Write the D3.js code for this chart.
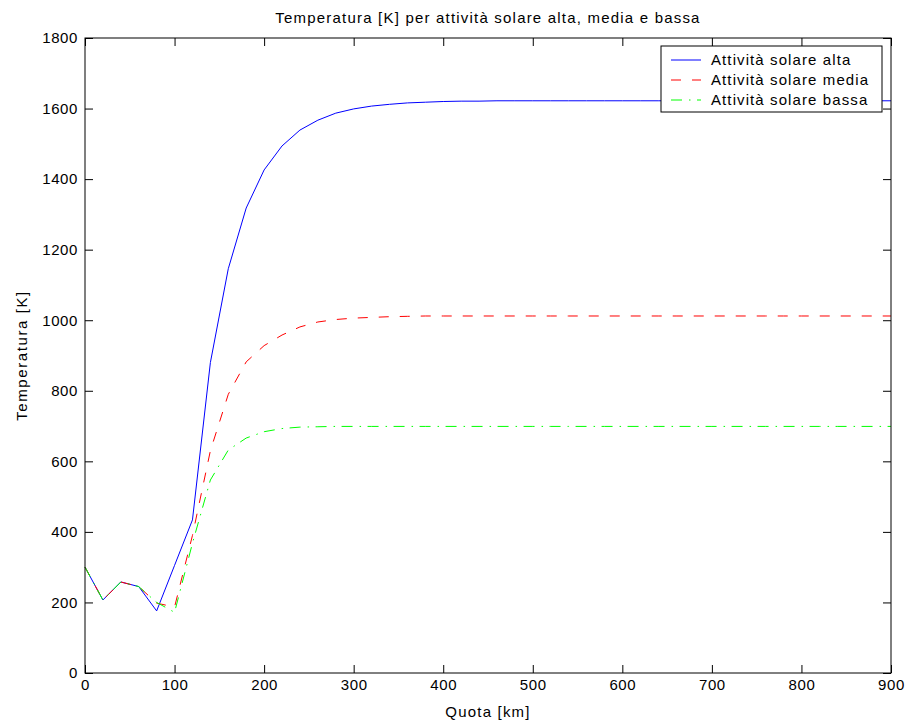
<!DOCTYPE html>
<html>
<head>
<meta charset="utf-8">
<script src="https://cdn.jsdelivr.net/npm/d3@7"></script>
<style>
  body { margin: 0; background: #fff; }
  text { font-family: "Liberation Sans", Arial, Helvetica, sans-serif; }
</style>
</head>
<body>
<svg id="chart"></svg>
<script>
// altitude in km
const quota = [0, 20, 40, 60, 80, 100, 120, 140, 160, 180, 200, 220, 240, 260, 280, 300,
  320, 340, 360, 380, 400, 420, 440, 460, 480, 500, 520, 540, 560, 580, 600,
  620, 640, 660, 680, 700, 720, 740, 760, 780, 800, 820, 840, 860, 880, 900];

const tempAlta = [300, 207, 258, 245, 176, 305, 434, 880, 1146, 1318, 1426, 1494, 1539, 1567, 1587, 1599,
  1607, 1612, 1616, 1618, 1620, 1621, 1621, 1622, 1622, 1622, 1622, 1622, 1622, 1622, 1622,
  1622, 1622, 1622, 1622, 1622, 1622, 1622, 1622, 1622, 1622, 1622, 1622, 1622, 1622, 1622];

const tempMedia = [300, 207, 258, 245, 198, 187, 390, 630, 790, 882, 928, 958, 981, 995, 1002, 1006,
  1008, 1010, 1011, 1012, 1012, 1012, 1012, 1012, 1012, 1012, 1012, 1012, 1012, 1012, 1012,
  1012, 1012, 1012, 1012, 1012, 1012, 1012, 1012, 1012, 1012, 1012, 1012, 1012, 1012, 1012];

const tempBassa = [300, 207, 258, 245, 200, 172, 368, 547, 632, 666, 684, 693, 697, 698, 699, 699,
  699, 699, 699, 699, 699, 699, 699, 699, 699, 699, 699, 699, 699, 699, 699,
  699, 699, 699, 699, 699, 699, 699, 699, 699, 699, 699, 699, 699, 699, 699];

const seriesNames = ['Attività solare alta', 'Attività solare media', 'Attività solare bassa'];
const xTicks = [0, 100, 200, 300, 400, 500, 600, 700, 800, 900];
const yTicks = [0, 200, 400, 600, 800, 1000, 1200, 1400, 1600, 1800];

const W = 909, H = 723,
  m = {l: 85, r: 891, t: 38, b: 673};

const svg = d3.select('#chart').attr('width', W).attr('height', H);

const x = d3.scaleLinear().domain([0, 900]).range([m.l, m.r]),
  y = d3.scaleLinear().domain([0, 1800]).range([m.b, m.t]);

const styles = [
  {color: '#0000ff', dash: null},
  {color: '#ff0000', dash: '10,11'},
  {color: '#00ff00', dash: '11,7,1.5,6.5'}
];
const allSeries = [tempAlta, tempMedia, tempBassa];

const line = d3.line().x((d) => x(d[0])).y((d) => y(d[1]));

allSeries.forEach((vals, i) => {
  svg.append('path')
    .datum(quota.map((q, j) => [q, vals[j]]))
    .attr('d', line)
    .attr('fill', 'none')
    .attr('stroke', styles[i].color)
    .attr('stroke-width', 1)
    .attr('stroke-dasharray', styles[i].dash);
});

// axes, matlab style ticks pointing inward
const styleAxis = (g) => {
  g.select('.domain').remove();
  g.selectAll('line').attr('stroke', '#000');
  g.selectAll('text').attr('font-size', 15).attr('fill', '#000')
    .attr('letter-spacing', 0.6)
    .style('font-family', '"Liberation Sans", Arial, sans-serif');
};

svg.append('g')
  .attr('transform', 'translate(' + m.l + ',0)')
  .call(d3.axisLeft(y).tickValues(yTicks).tickSize(-8).tickPadding(7).tickFormat(d3.format('d')))
  .call(styleAxis);
svg.append('g')
  .attr('transform', 'translate(' + m.r + ',0)')
  .call(d3.axisRight(y).tickValues(yTicks).tickSize(-8).tickFormat(''))
  .call(styleAxis);
svg.append('g')
  .attr('transform', 'translate(0,' + m.b + ')')
  .call(d3.axisBottom(x).tickValues(xTicks).tickSize(-8).tickPadding(6).tickFormat(d3.format('d')))
  .call(styleAxis);
svg.append('g')
  .attr('transform', 'translate(0,' + m.t + ')')
  .call(d3.axisTop(x).tickValues(xTicks).tickSize(-8).tickFormat(''))
  .call(styleAxis);

svg.append('rect')
  .attr('x', m.l).attr('y', m.t)
  .attr('width', m.r - m.l).attr('height', m.b - m.t)
  .attr('fill', 'none').attr('stroke', '#000').attr('stroke-width', 1);

// titles
svg.append('text')
  .text('Temperatura [K] per attività solare alta, media e bassa')
  .attr('x', (m.l + m.r) / 2).attr('y', 23)
  .attr('text-anchor', 'middle').attr('font-size', 15)
  .attr('letter-spacing', 1.2);
svg.append('text')
  .text('Quota [km]')
  .attr('x', (m.l + m.r) / 2).attr('y', 717)
  .attr('text-anchor', 'middle').attr('font-size', 15)
  .attr('letter-spacing', 1.2);
svg.append('text')
  .text('Temperatura [K]')
  .attr('text-anchor', 'middle').attr('font-size', 15)
  .attr('letter-spacing', 1.6)
  .attr('transform', 'translate(27,' + (m.t + m.b) / 2 + ') rotate(-90)');

// legend
const leg = svg.append('g').attr('transform', 'translate(661,46)');
leg.append('rect')
  .attr('width', 221).attr('height', 66)
  .attr('fill', '#fff').attr('stroke', '#000').attr('stroke-width', 1);
seriesNames.forEach((name, i) => {
  const ly = 14 + i * 20;
  leg.append('line')
    .attr('x1', 10).attr('x2', 40).attr('y1', ly).attr('y2', ly)
    .attr('stroke', styles[i].color).attr('stroke-width', 1)
    .attr('stroke-dasharray', styles[i].dash);
  leg.append('text')
    .text(name)
    .attr('x', 50).attr('y', ly + 5)
    .attr('font-size', 15)
    .attr('letter-spacing', 1.1);
});
</script>
</body>
</html>
